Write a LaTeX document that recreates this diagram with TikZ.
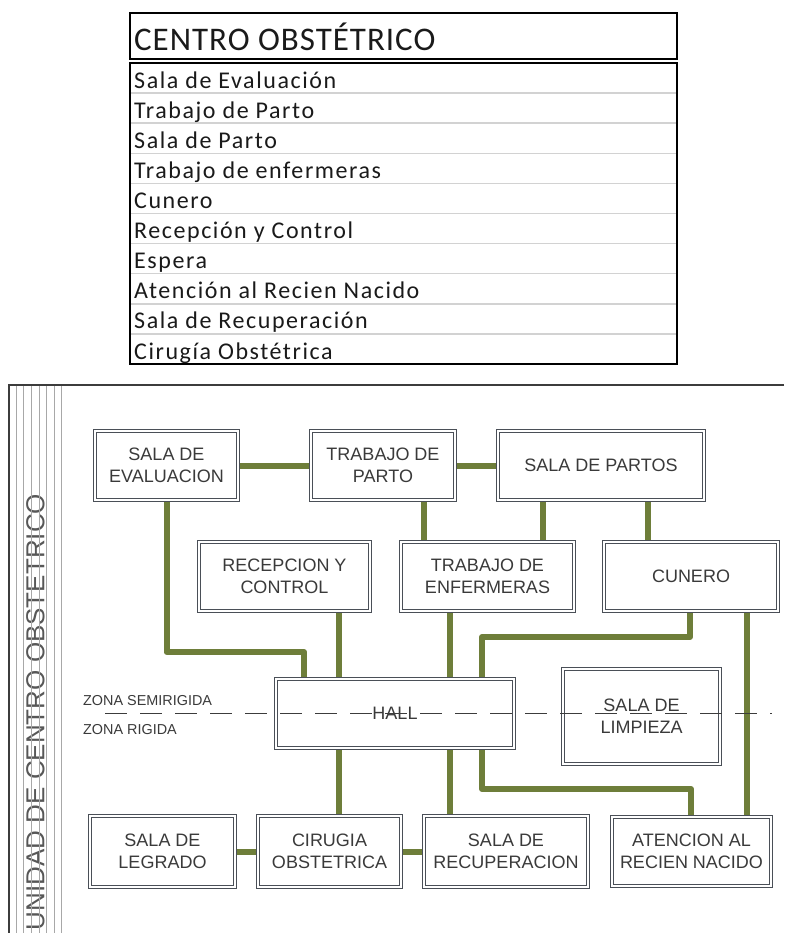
\documentclass[tikz,border=0pt]{standalone}
\usepackage{fontspec}
\setmainfont{Liberation Sans}
\newfontfamily\tabtitlefont{Carlito}[LetterSpace=3]
\newfontfamily\tabrowfont{Carlito}[LetterSpace=6.5]
\usetikzlibrary{backgrounds}
\definecolor{linkgreen}{HTML}{6E7E3A}
\definecolor{boxline}{HTML}{4A4F57}
\definecolor{roomtxt}{HTML}{3A3A3A}
\definecolor{framegray}{HTML}{A8A8A8}
\definecolor{framedark}{HTML}{3C3C3C}
\definecolor{rowsep}{HTML}{D2D2D2}
\definecolor{tabtxt}{HTML}{1A1A1A}
\begin{document}
\begin{tikzpicture}[x=1pt,y=-1pt,
  room/.style={draw=boxline, line width=0.7pt, double=white, double distance=2.2pt,
    fill=white, inner sep=0pt, align=center, text=roomtxt,
    font=\fontsize{18}{22}\selectfont},
  link/.style={draw=linkgreen, line width=6pt, line join=round},
  zoneline/.style={draw=framedark, line width=0.9pt, dash pattern=on 22pt off 13pt},
  zonelabel/.style={anchor=west, inner sep=0pt, text=roomtxt, font=\fontsize{14.4}{16}\selectfont},
  tabbox/.style={draw=black, line width=2pt},
  tabrow/.style={anchor=base west, inner sep=0pt, text=tabtxt, font=\tabrowfont\fontsize{24}{25}\selectfont},
  framethin/.style={draw=framegray, line width=0.9pt},
  framethick/.style={draw=framedark, line width=1.1pt}]
\useasboundingbox (0,0) rectangle (784,933);

% ---------- table ----------
\draw[tabbox] (130,13) rectangle (677,59);
\node[anchor=base west, inner sep=0pt, text=tabtxt,
      font=\tabtitlefont\fontsize{33}{34}\selectfont] (title) at (134,51) {CENTRO OBSTÉTRICO};
\foreach \i in {1,...,9}
  \draw[rowsep, line width=1.5pt] (131,{63+30.1*\i}) -- (676,{63+30.1*\i});
\foreach \t [count=\i] in {Sala de Evaluación, Trabajo de Parto, Sala de Parto,
   Trabajo de enfermeras, Cunero, Recepción y Control, Espera,
   Atención al Recien Nacido, Sala de Recuperación, Cirugía Obstétrica}
  \node[tabrow] (row\i) at (134,{63+30.1*\i-5}) {\t};
\draw[tabbox] (130,63) rectangle (677,364);

% ---------- frame ----------
\node[rotate=90, inner sep=0pt, text=roomtxt!85!white,
      font=\fontsize{26}{26}\selectfont] (unit) at (35.5,712) {UNIDAD DE CENTRO OBSTETRICO};
\foreach \x in {16,23.5,31.5,39.3,46.7,54,61.5}
  \draw[framethin] (\x,385) -- (\x,933);
\draw[framethick] (784,385) -- (9,385) -- (9,933);

\node[zonelabel] (zsemi) at (83,701) {ZONA SEMIRIGIDA};
\node[zonelabel] (zrig) at (83,730) {ZONA RIGIDA};

% ---------- rooms ----------
\node[room, minimum width=143.4pt, minimum height=69.4pt] (eval) at (166.5,465.5) {SALA DE\\EVALUACION};
\node[room, minimum width=144.4pt, minimum height=69.4pt] (tparto) at (383,465.5) {TRABAJO DE\\PARTO};
\node[room, minimum width=206.4pt, minimum height=69.4pt] (spartos) at (601,465.5) {SALA DE PARTOS};
\node[room, minimum width=171.4pt, minimum height=69.4pt] (recep) at (284.5,576.5) {RECEPCION Y\\CONTROL};
\node[room, minimum width=173.4pt, minimum height=69.4pt] (tenf) at (487.5,576.5) {TRABAJO DE\\ENFERMERAS};
\node[room, minimum width=174.4pt, minimum height=69.4pt] (cunero) at (691,576.5) {CUNERO};
\node[room, minimum width=238.4pt, minimum height=69.4pt] (hall) at (395,713.5) {HALL};
\node[room, minimum width=157.4pt, minimum height=95.4pt] (limp) at (641.5,716.5) {SALA DE\\LIMPIEZA};
\node[room, minimum width=145.4pt, minimum height=71.4pt] (legrado) at (162.5,851.5) {SALA DE\\LEGRADO};
\node[room, minimum width=143.4pt, minimum height=71.4pt] (cirugia) at (329.5,851.5) {CIRUGIA\\OBSTETRICA};
\node[room, minimum width=164.4pt, minimum height=71.4pt] (recup) at (506,851.5) {SALA DE\\RECUPERACION};
\node[room, minimum width=159.4pt, minimum height=69.4pt] (atencion) at (691.5,851.5) {ATENCION AL\\RECIEN NACIDO};

% ---------- connector helpers ----------
\coordinate (v339) at (339,0);
\coordinate (v424) at (424,0);
\coordinate (v450) at (450,0);
\coordinate (v543) at (543,0);
\coordinate (v648) at (648,0);
\coordinate (v690) at (690,0);
\coordinate (v747) at (747,0);
\coordinate (v482) at (482,0);
\coordinate (k1) at (304,652);
\coordinate (k2) at (482,637);
\coordinate (k3) at (691,789);

\begin{pgfonlayer}{background}
\draw[link] (eval.east) -- (tparto.west);
\draw[link] (tparto.east) -- (spartos.west);
\draw[link] (eval.south) |- (k1) -- (k1 |- hall.north);
\draw[link] (v339 |- recep.south) -- (v339 |- hall.north);
\draw[link] (v424 |- tparto.south) -- (v424 |- tenf.north);
\draw[link] (v543 |- spartos.south) -- (v543 |- tenf.north);
\draw[link] (v648 |- spartos.south) -- (v648 |- cunero.north);
\draw[link] (v450 |- tenf.south) -- (v450 |- hall.north);
\draw[link] (v690 |- cunero.south) |- (k2) -- (k2 |- hall.north);
\draw[link] (v747 |- cunero.south) -- (v747 |- atencion.north);
\draw[link] (v339 |- hall.south) -- (v339 |- cirugia.north);
\draw[link] (v450 |- hall.south) -- (v450 |- recup.north);
\draw[link] (v482 |- hall.south) |- (k3) -- (k3 |- atencion.north);
\draw[link] (legrado.east) -- (cirugia.west);
\draw[link] (cirugia.east) -- (recup.west);
\end{pgfonlayer}

% ---------- zone dividing line ----------
\coordinate (d1) at (105,713);
\coordinate (d2) at (772,713);
\draw[zoneline] (d1) -- (d2);
\end{tikzpicture}
\end{document}
